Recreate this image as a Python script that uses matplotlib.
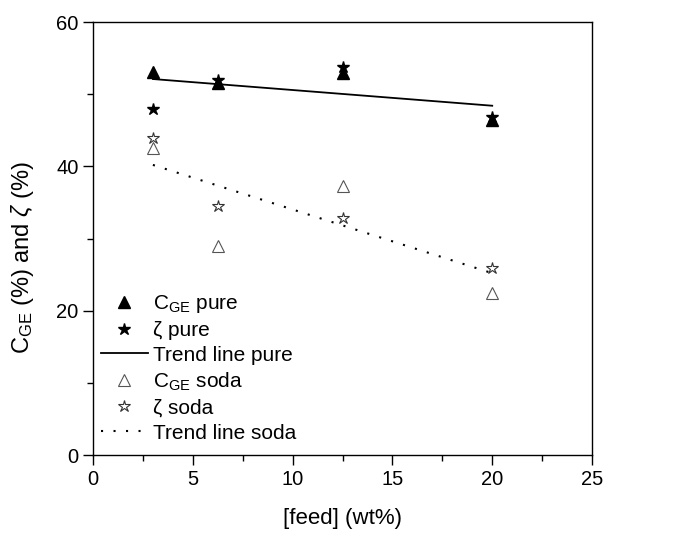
import numpy as np
import matplotlib
matplotlib.use('Agg')
import matplotlib.pyplot as plt
from matplotlib.ticker import MultipleLocator

plt.rcParams['font.family'] = ['Liberation Sans', 'DejaVu Sans']
plt.rcParams['mathtext.fontset'] = 'custom'
plt.rcParams['mathtext.rm'] = 'Liberation Sans'
plt.rcParams['mathtext.it'] = 'Liberation Sans:italic'

# feed concentration (wt%)
feed = [3, 6.25, 12.5, 20]

# pure feed
cge_pure = [53.1, 51.5, 53.0, 46.4]
zeta_pure = [48.0, 52.0, 53.7, 46.9]
# soda feed
cge_soda = [42.6, 28.9, 37.3, 22.5]
zeta_soda = [43.9, 34.5, 32.9, 25.9]

# trend lines (end points)
trend_x = [3, 20]
trend_pure = [52.1, 48.4]
trend_soda = [40.2, 25.2]

fig = plt.figure(figsize=(6.86, 5.33), dpi=100)
ax = fig.add_axes([0.1356, 0.1463, 0.7274, 0.8124])

ax.plot(feed, cge_pure, ls='none', marker='^', ms=8, mfc='k', mec='k',
        label=r'C$_{\mathrm{GE}}$ pure')
ax.plot(feed, zeta_pure, ls='none', marker='*', ms=9, mfc='k', mec='k',
        label='ζ pure')
ax.plot(trend_x, trend_pure, color='k', lw=1.3, label='Trend line pure')
ax.plot(feed, cge_soda, ls='none', marker='^', ms=8, mfc='white', mec='#555555',
        mew=0.8, label=r'C$_{\mathrm{GE}}$ soda')
ax.plot(feed, zeta_soda, ls='none', marker='*', ms=9, mfc='white', mec='#333333',
        mew=0.8, label='ζ soda')
ax.plot(trend_x, trend_soda, color='k', lw=1.5, ls=(0, (1, 5)),
        label='Trend line soda')

ax.set_xlim(0, 25)
ax.set_ylim(0, 60)
ax.xaxis.set_major_locator(MultipleLocator(5))
ax.xaxis.set_minor_locator(MultipleLocator(2.5))
ax.yaxis.set_major_locator(MultipleLocator(20))
ax.yaxis.set_minor_locator(MultipleLocator(10))
ax.tick_params(which='both', direction='out', top=False, right=False,
               width=1.0, labelsize=14.5)
ax.tick_params(which='major', length=7)
ax.tick_params(which='minor', length=4)
for s in ax.spines.values():
    s.set_linewidth(1.0)

ax.set_xlabel('[feed] (wt%)', fontsize=16, labelpad=14)
ax.set_ylabel(r'C$_{\mathrm{GE}}$ (%) and $\zeta$ (%)', fontsize=17)
ax.yaxis.set_label_coords(-0.114, 0.455)

ax.legend(loc='lower left', bbox_to_anchor=(-0.01, 0.0), frameon=False,
          fontsize=15, handlelength=2.26, handletextpad=0.25, labelspacing=0.28,
          borderaxespad=0.2)

fig.savefig('out.png', dpi=100)
